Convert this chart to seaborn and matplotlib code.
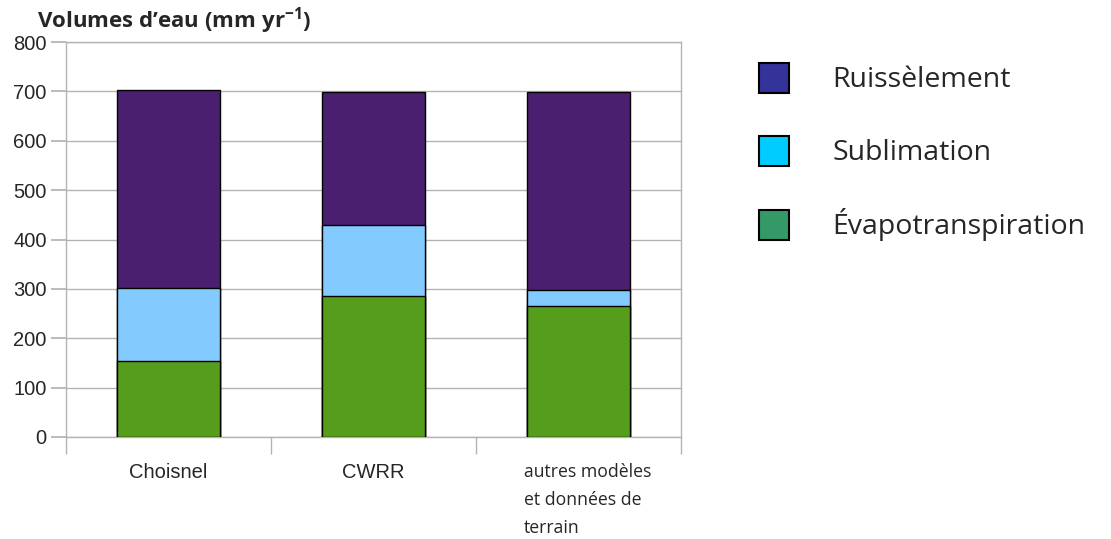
import numpy as np
import matplotlib
matplotlib.use("Agg")
import matplotlib.pyplot as plt
import matplotlib.transforms as mtransforms
import seaborn as sns
import pandas as pd
from matplotlib.patches import Patch

# data (mm / yr)
categories = ["Choisnel", "CWRR", "autres modèles\net données de\nterrain"]
evapo = [154, 285, 265]
sublim = [148, 144, 33]
ruiss = [400, 270, 400]

bar_colors = {"ruiss": "#4b1f6f", "sublim": "#83caff", "evapo": "#579d1c"}
legend_labels = ["Ruissèlement", "Sublimation", "Évapotranspiration"]
legend_colors = ["#333399", "#00ccff", "#339966"]

df = pd.DataFrame({"cat": categories, "evapo": evapo, "sublim": sublim, "ruiss": ruiss})
df["lvl2"] = df["evapo"] + df["sublim"]
df["lvl3"] = df["lvl2"] + df["ruiss"]

sns.set_theme(style="white")
plt.rcParams["font.family"] = ["Liberation Sans", "DejaVu Sans"]
plt.rcParams["mathtext.fontset"] = "custom"
plt.rcParams["mathtext.rm"] = "Open Sans"
plt.rcParams["mathtext.bf"] = "Open Sans:bold"

fig = plt.figure(figsize=(11.11, 5.39), dpi=100)
ax = fig.add_axes([66 / 1111, 1 - 437 / 539, 615 / 1111, 395 / 539])

for col in ["lvl3", "lvl2", "evapo"]:
    key = {"lvl3": "ruiss", "lvl2": "sublim", "evapo": "evapo"}[col]
    sns.barplot(data=df, x="cat", y=col, color=bar_colors[key], saturation=1,
                width=0.5, edgecolor="black", linewidth=1, ax=ax, zorder=3)

ax.set_xlim(-0.5, 2.5)
ax.set_ylim(0, 800)
ax.set_yticks(np.arange(0, 801, 100))
ax.set_xlabel("")
ax.set_ylabel("")
ax.yaxis.grid(True, color="#b3b3b3", linewidth=1, zorder=0)
for s in ax.spines.values():
    s.set_color("#b3b3b3")
    s.set_linewidth(1)
ax.tick_params(axis="y", length=11, color="#b3b3b3", labelsize=14.5, pad=3, left=True)
ax.set_xticks([0, 1, 2])
ax.set_xticklabels(categories, fontsize=14.5, va="top", linespacing=1.7)
ax.tick_params(axis="x", which="major", length=0, pad=19)
ax.set_xticks([-0.5, 0.5, 1.5, 2.5], minor=True)
ax.tick_params(axis="x", which="minor", length=12, color="#b3b3b3", width=1, bottom=True)
shift = mtransforms.ScaledTranslation(9 / 100, 0, fig.dpi_scale_trans)
for lab in ax.get_xticklabels()[2:]:
    lab.set_fontfamily(["Open Sans", "DejaVu Sans"])
    lab.set_fontsize(12.7)
    lab.set_multialignment("left")
    lab.set_transform(lab.get_transform() + shift)

fig.text(37 / 1111, 1 - 21 / 539, "Volumes d’eau (mm yr$^{\\mathbf{-1}}$)",
         fontsize=16, fontweight="bold", va="center", ha="left",
         family=["Open Sans", "DejaVu Sans"])

handles = [Patch(facecolor=c, edgecolor="black", linewidth=1.5) for c in legend_colors]
fig.legend(handles, legend_labels, loc="upper left",
           bbox_to_anchor=(733 / 1111, 1 - 37 / 539), frameon=False,
           prop={"family": ["Open Sans", "DejaVu Sans"], "size": 20.5},
           handlelength=1.05, handleheight=1.25, labelspacing=1.45, handletextpad=1.55)

fig.savefig("out.png", dpi=100)
